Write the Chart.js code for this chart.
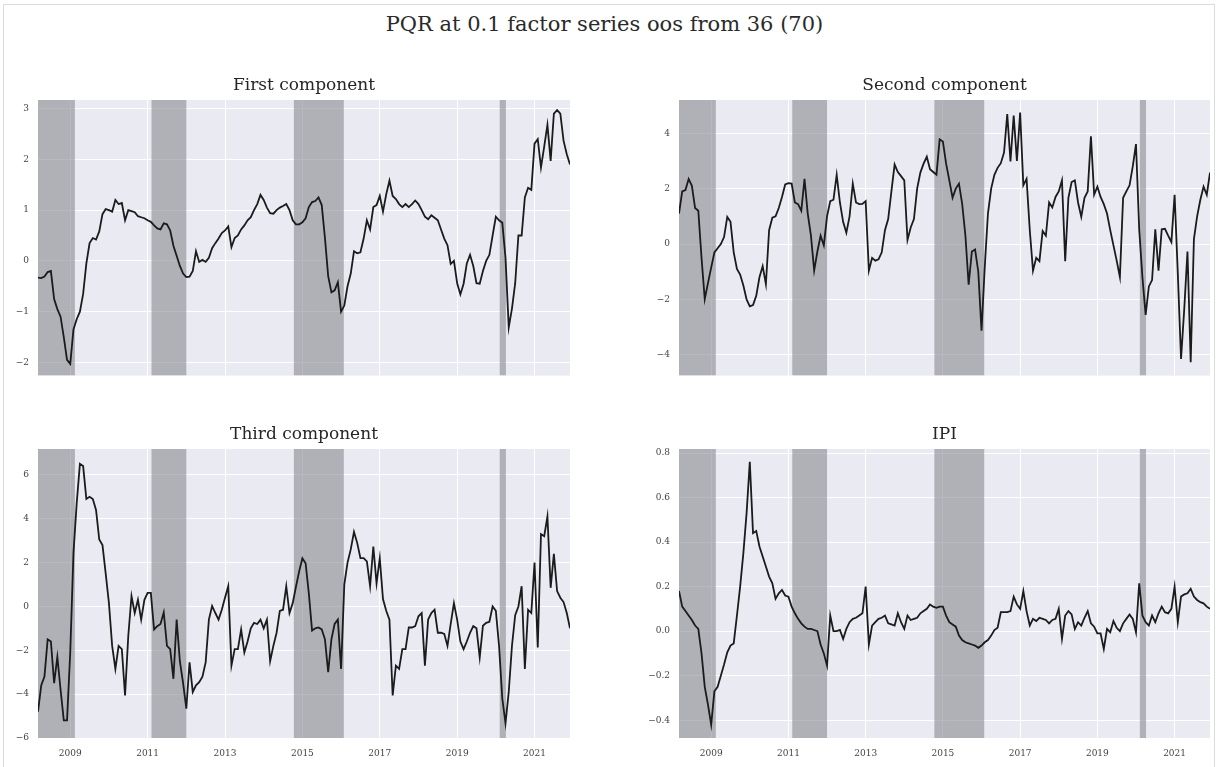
<!DOCTYPE html>
<html>
<head>
<meta charset="utf-8">
<script src="https://cdn.jsdelivr.net/npm/chart.js@4/dist/chart.umd.min.js"></script>
<style>
  html, body { margin: 0; padding: 0; background: #ffffff; }
  body { width: 1221px; height: 767px; position: relative; overflow: hidden; }
  #frame { position: absolute; left: 3px; top: 4px; width: 1212px; height: 800px; border: 1px solid #dcdcdc; box-sizing: border-box; }
  #suptitle { position: absolute; left: 0; width: 1209px; top: 11px; text-align: center;
              font-family: "DejaVu Serif", serif; font-size: 21px; color: #2a2a2a; line-height: 26px; }
  canvas { position: absolute; }
</style>
</head>
<body>
<div id="frame"></div>
<div id="suptitle">PQR at 0.1 factor series oos from 36 (70)</div>
<canvas id="c1" width="580" height="313" style="left:0px;top:77px"></canvas>
<canvas id="c2" width="579" height="313" style="left:641px;top:77px"></canvas>
<canvas id="c3" width="580" height="340" style="left:0px;top:426px"></canvas>
<canvas id="c4" width="579" height="340" style="left:641px;top:426px"></canvas>
<script>
// Monthly observations, first month March 2008, last month December 2021
const startYear = 2008;
const startMonth = 3;

const firstComponent = [
  -0.33, -0.34, -0.31, -0.22, -0.2, -0.75, -0.95, -1.1, -1.5, -1.95,
  -2.03, -1.35, -1.15, -1.0, -0.65, -0.05, 0.35, 0.45, 0.42, 0.58,
  0.92, 1.02, 1.0, 0.97, 1.2, 1.12, 1.14, 0.8, 1.0, 0.98,
  0.96, 0.88, 0.86, 0.84, 0.8, 0.77, 0.7, 0.64, 0.62, 0.74,
  0.72, 0.6, 0.3, 0.1, -0.1, -0.25, -0.32, -0.31, -0.2, 0.19,
  -0.02, 0.02, -0.02, 0.06, 0.25, 0.35, 0.44, 0.55, 0.6, 0.68,
  0.27, 0.45, 0.5, 0.62, 0.7, 0.8, 0.86, 1.0, 1.12, 1.3,
  1.2, 1.05, 0.94, 0.93, 1.0, 1.05, 1.08, 1.12, 1.0, 0.8,
  0.72, 0.72, 0.76, 0.84, 1.06, 1.16, 1.18, 1.25, 1.1, 0.45,
  -0.3, -0.62, -0.58, -0.42, -1.0, -0.88, -0.5, -0.25, 0.19, 0.15,
  0.17, 0.44, 0.8, 0.62, 1.06, 1.1, 1.28, 0.97, 1.31, 1.58,
  1.28, 1.22, 1.12, 1.06, 1.12, 1.06, 1.12, 1.19, 1.12, 1.0,
  0.87, 0.82, 0.9, 0.85, 0.8, 0.62, 0.44, 0.31, -0.06, 0.0,
  -0.44, -0.66, -0.45, -0.05, 0.12, -0.1, -0.44, -0.45, -0.2, 0.0,
  0.12, 0.5, 0.87, 0.8, 0.75, 0.06, -1.31, -0.94, -0.44, 0.5,
  0.5, 1.25, 1.44, 1.4, 2.31, 2.4, 1.84, 2.25, 2.68, 1.97,
  2.9, 2.97, 2.9, 2.37, 2.1, 1.9
];

const secondComponent = [
  1.1, 1.9, 1.95, 2.35, 2.1, 1.3, 1.2, -0.5, -1.99, -1.41,
  -0.85, -0.3, -0.15, 0.0, 0.25, 0.98, 0.8, -0.3, -0.9, -1.1,
  -1.5, -2.0, -2.25, -2.2, -1.87, -1.2, -0.8, -1.45, 0.5, 0.95,
  1.0, 1.3, 1.7, 2.15, 2.2, 2.18, 1.5, 1.44, 1.2, 2.35,
  1.1, 0.3, -0.96, -0.27, 0.3, -0.05, 1.0, 1.55, 1.6, 2.5,
  1.5, 0.8, 0.41, 1.0, 2.18, 1.5, 1.44, 1.45, 1.55, -0.96,
  -0.5, -0.6, -0.55, -0.3, 0.5, 0.9, 1.9, 2.87, 2.6, 2.45,
  2.3, 0.15, 0.6, 0.9, 2.0, 2.58, 2.9, 3.15, 2.7, 2.6,
  2.5, 3.78, 3.7, 2.9, 2.3, 1.67, 2.0, 2.18, 1.44, 0.3,
  -1.47, -0.27, -0.2, -1.0, -3.13, -0.85, 1.1, 2.0, 2.5, 2.75,
  2.92, 3.3, 4.69, 2.98, 4.64, 3.0, 4.75, 2.12, 2.35, 0.5,
  -0.96, -0.5, -0.62, 0.47, 0.3, 1.5, 1.32, 1.7, 1.9, 2.3,
  -0.62, 1.67, 2.24, 2.3, 1.5, 0.98, 1.67, 1.9, 3.89, 1.78,
  2.07, 1.7, 1.44, 1.1, 0.5, -0.05, -0.6, -1.19, 1.67, 1.9,
  2.12, 2.8, 3.61, 0.53, -1.2, -2.56, -1.53, -1.3, 0.53, -0.96,
  0.53, 0.55, 0.3, 0.07, 1.78, -1.07, -4.15, -2.34, -0.27, -4.27,
  0.18, 1.0, 1.6, 2.07, 1.78, 2.58
];

const thirdComponent = [
  -4.8, -3.6, -3.2, -1.5, -1.6, -3.5, -2.3, -3.8, -5.2, -5.2,
  -2.1, 2.43, 4.7, 6.5, 6.4, 4.9, 5.0, 4.9, 4.4, 3.05,
  2.8, 1.5, 0.15, -1.8, -2.85, -1.8, -1.95, -4.06, -1.35, 0.47,
  -0.3, 0.3, -0.6, 0.3, 0.62, 0.62, -1.05, -0.9, -0.8, -0.27,
  -1.8, -1.95, -3.3, -0.6, -2.5, -3.5, -4.66, -2.55, -3.9, -3.6,
  -3.45, -3.2, -2.55, -0.6, 0.02, -0.3, -0.6, -0.15, 0.4, 0.92,
  -2.7, -1.95, -1.95, -1.05, -2.1, -1.6, -1.0, -0.75, -0.8, -0.6,
  -1.0, -0.6, -2.5, -1.8, -1.2, -0.2, -0.15, 0.92, -0.3, 0.15,
  0.9, 1.6, 2.2, 1.97, 0.6, -1.1, -1.0, -0.96, -1.05, -1.5,
  -3.0, -1.5, -0.8, -0.6, -2.85, 1.0, 2.0, 2.6, 3.4, 2.9,
  2.2, 2.2, 2.05, 0.92, 2.73, 1.05, 2.2, 0.34, -0.2, -0.6,
  -4.06, -2.7, -2.85, -1.95, -1.95, -0.96, -0.96, -0.9, -0.45, -0.3,
  -2.7, -0.6, -0.3, -0.15, -1.2, -1.2, -1.25, -1.8, -0.8, 0.15,
  -0.6, -1.6, -1.95, -1.6, -1.2, -0.9, -1.0, -2.33, -0.88, -0.75,
  -0.7, 0.0, -0.2, -1.8, -4.2, -5.33, -3.9, -1.8, -0.4, 0.0,
  0.92, -2.85, -0.15, -0.3, 2.0, -1.87, 3.3, 3.2, 4.1, 0.85,
  2.4, 0.7, 0.4, 0.2, -0.3, -1.0
];

const ipi = [
  0.18, 0.11, 0.09, 0.07, 0.05, 0.025, 0.01, -0.1, -0.25, -0.33,
  -0.42, -0.27, -0.25, -0.2, -0.15, -0.095, -0.065, -0.055, 0.07, 0.2,
  0.35, 0.53, 0.76, 0.44, 0.45, 0.38, 0.335, 0.29, 0.245, 0.215,
  0.145, 0.17, 0.185, 0.16, 0.155, 0.11, 0.08, 0.055, 0.035, 0.02,
  0.01, 0.01, 0.005, 0.0, -0.06, -0.1, -0.155, 0.07, 0.0, 0.0,
  0.005, -0.035, 0.01, 0.04, 0.055, 0.06, 0.07, 0.08, 0.2, -0.06,
  0.025, 0.04, 0.055, 0.06, 0.07, 0.035, 0.03, 0.025, 0.08, 0.04,
  0.01, 0.07, 0.05, 0.055, 0.06, 0.08, 0.09, 0.1, 0.12, 0.11,
  0.105, 0.11, 0.11, 0.07, 0.04, 0.03, 0.02, -0.02, -0.04, -0.05,
  -0.055, -0.06, -0.065, -0.075, -0.065, -0.05, -0.04, -0.02, 0.005, 0.015,
  0.085, 0.085, 0.085, 0.09, 0.155, 0.12, 0.1, 0.18, 0.09, 0.025,
  0.055, 0.045, 0.06, 0.055, 0.05, 0.035, 0.05, 0.055, 0.1, -0.035,
  0.07, 0.09, 0.075, 0.01, 0.04, 0.025, 0.06, 0.09, 0.035, 0.02,
  -0.01, -0.01, -0.08, 0.01, -0.005, 0.045, 0.015, 0.0, 0.035, 0.055,
  0.075, 0.055, -0.005, 0.215, 0.07, 0.04, 0.025, 0.07, 0.04, 0.08,
  0.11, 0.085, 0.08, 0.1, 0.2, 0.04, 0.155, 0.165, 0.17, 0.19,
  0.155, 0.14, 0.13, 0.125, 0.11, 0.1
];

// Recession periods (fractional years)
const recessions = [
  [2008.0, 2009.12],
  [2011.1, 2012.0],
  [2014.78, 2016.07],
  [2020.1, 2020.26]
];

// Year ticks on the shared date axis
const yearTicks = [2009, 2011, 2013, 2015, 2017, 2019, 2021];

const firstTicks = [-2, -1, 0, 1, 2, 3];
const secondTicks = [-4, -2, 0, 2, 4];
const thirdTicks = [-6, -4, -2, 0, 2, 4, 6];
const ipiTicks = [-0.4, -0.2, 0.0, 0.2, 0.4, 0.6, 0.8];

// Decimal-year position of each monthly observation
const monthPos = firstComponent.map((_, i) => startYear + (startMonth - 1 + i) / 12);
const xMin = monthPos[0];
const xMax = monthPos[monthPos.length - 1];

const SERIF = "'DejaVu Serif', serif";

const panelBackground = {
  id: 'panelBackground',
  beforeDraw(chart) {
    const { ctx, chartArea: a } = chart;
    ctx.save();
    ctx.fillStyle = '#eaeaf2';
    ctx.fillRect(a.left, a.top, a.right - a.left, a.bottom - a.top);
    ctx.restore();
  }
};

const recessionBands = {
  id: 'recessionBands',
  beforeDatasetsDraw(chart) {
    const { ctx, chartArea: a, scales: { x } } = chart;
    ctx.save();
    ctx.beginPath();
    ctx.rect(a.left, a.top, a.right - a.left, a.bottom - a.top);
    ctx.clip();
    ctx.fillStyle = 'rgba(128,128,134,0.55)';
    recessions.forEach(([s, e]) => {
      const x0 = x.getPixelForValue(s);
      const x1 = x.getPixelForValue(e);
      ctx.fillRect(x0, a.top, x1 - x0, a.bottom - a.top);
    });
    ctx.restore();
  }
};

// Panel heading centred over the plotting area
const panelTitle = {
  id: 'panelTitle',
  afterDraw(chart, args, opts) {
    const { ctx, chartArea: a } = chart;
    ctx.save();
    ctx.fillStyle = '#262626';
    ctx.font = '17px ' + SERIF;
    ctx.textAlign = 'center';
    ctx.textBaseline = 'middle';
    ctx.fillText(opts.text, (a.left + a.right) / 2, a.top - 14);
    ctx.restore();
  }
};

function minusFmt(v, decimals) {
  const s = Math.abs(v).toFixed(decimals);
  return v < -1e-9 ? '\u2212' + s : s;
}

function makePanel(id, title, values, yMin, yMax, yTicks, decimals, showX) {
  new Chart(document.getElementById(id), {
    type: 'line',
    data: {
      datasets: [{
        data: values.map((v, i) => ({ x: monthPos[i], y: v })),
        borderColor: '#1b1b1b',
        borderWidth: 1.8,
        pointRadius: 0,
        tension: 0,
        fill: false
      }]
    },
    options: {
      responsive: false,
      animation: false,
      devicePixelRatio: 1,
      layout: { padding: { left: 0, right: 10, top: 23, bottom: 0 } },
      plugins: {
        legend: { display: false },
        tooltip: { enabled: false },
        title: { display: false },
        panelTitle: { text: title }
      },
      scales: {
        x: {
          type: 'linear',
          min: xMin,
          max: xMax,
          afterBuildTicks(scale) { scale.ticks = yearTicks.map(v => ({ value: v })); },
          afterFit(scale) { scale.height = showX ? 28 : 0; },
          border: { display: false },
          grid: { color: '#ffffff', lineWidth: 1, drawTicks: false },
          ticks: {
            display: showX,
            padding: 10,
            maxRotation: 0,
            autoSkip: false,
            color: '#444444',
            font: { family: SERIF, size: 9 },
            callback: v => String(v)
          }
        },
        y: {
          min: yMin,
          max: yMax,
          afterBuildTicks(scale) { scale.ticks = yTicks.map(v => ({ value: v })); },
          afterFit(scale) { scale.width = 38; },
          border: { display: false },
          grid: { color: '#ffffff', lineWidth: 1, drawTicks: false },
          ticks: {
            padding: 9,
            autoSkip: false,
            color: '#444444',
            font: { family: SERIF, size: 9 },
            callback: v => minusFmt(v, decimals)
          }
        }
      }
    },
    plugins: [panelBackground, recessionBands, panelTitle]
  });
}

makePanel('c1', 'First component', firstComponent, -2.26, 3.17, firstTicks, 0, false);
makePanel('c2', 'Second component', secondComponent, -4.75, 5.2, secondTicks, 0, false);
makePanel('c3', 'Third component', thirdComponent, -6.0, 7.18, thirdTicks, 0, true);
makePanel('c4', 'IPI', ipi, -0.48, 0.818, ipiTicks, 1, true);
</script>
</body>
</html>
